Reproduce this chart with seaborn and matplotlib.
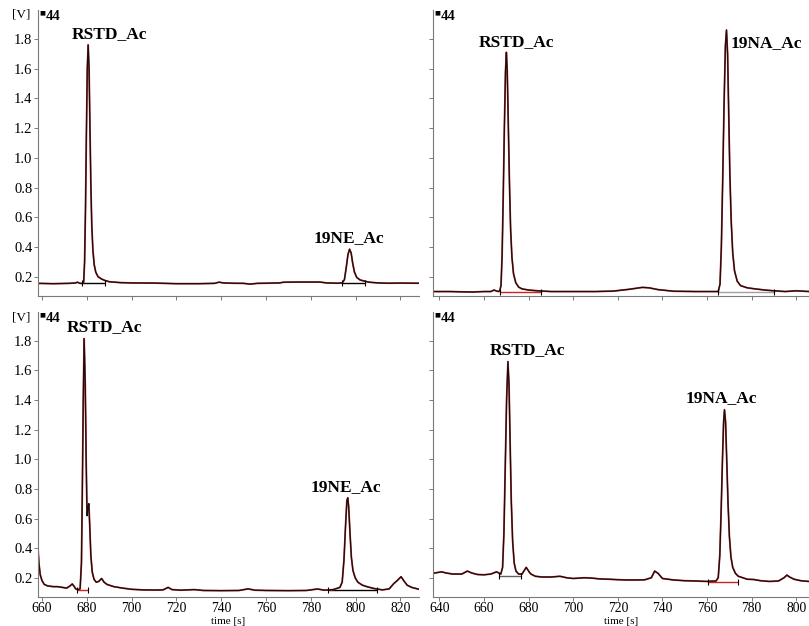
import numpy as np
import pandas as pd
import seaborn as sns
import matplotlib
matplotlib.use("Agg")
import matplotlib.pyplot as plt

# ---------------- data ----------------
# top-left chromatogram
tl_t = [658.2, 665, 672, 675, 675.8, 676.6, 677.5, 678.3, 678.6, 679.0, 679.4, 679.8, 680.2, 680.6,
        681.0, 681.4, 681.8, 682.2, 682.7, 683.3, 684, 685, 686.5, 688, 690, 695, 700, 710, 720, 730,
        737, 739, 741, 745, 750, 753, 756, 760, 766, 768, 775, 784, 787, 792, 794, 795, 795.8, 796.6,
        797.3, 798.0, 798.7, 799.5, 800.5, 802, 804, 806, 810, 815, 820, 828.3]
tl_v = [0.155, 0.153, 0.155, 0.158, 0.163, 0.157, 0.154, 0.158, 0.165, 0.3, 0.65, 1.15, 1.6, 1.76,
        1.6, 1.2, 0.82, 0.55, 0.38, 0.28, 0.23, 0.2, 0.185, 0.175, 0.166, 0.16, 0.158, 0.157, 0.153, 0.153,
        0.155, 0.163, 0.158, 0.156, 0.155, 0.150, 0.155, 0.156, 0.158, 0.163, 0.164, 0.164, 0.158, 0.156, 0.158, 0.18, 0.26, 0.35,
        0.385, 0.36, 0.29, 0.23, 0.195, 0.178, 0.17, 0.163, 0.158, 0.156, 0.157, 0.156]

# top-right chromatogram
tr_t = [637.1, 645, 650, 655, 660, 663, 664.5, 665.5, 666.5, 667.0, 667.6, 668.1, 668.6, 669.1, 669.6,
        670.0, 670.4, 670.9, 671.4, 671.9, 672.5, 673.2, 674.2, 675.5, 677, 680, 684, 690, 700, 710,
        718, 725, 731, 734, 738, 745, 755, 763, 765.0, 765.8, 766.4, 767.0, 767.6, 768.2, 768.7, 769.2,
        769.7, 770.2, 770.8, 771.5, 772.3, 773.5, 775, 778, 782, 786, 790, 795, 800, 805.7]
tr_v = [0.1, 0.1, 0.098, 0.097, 0.1, 0.1, 0.11, 0.104, 0.1, 0.105, 0.14, 0.35, 0.75, 1.2, 1.58,
        1.71, 1.58, 1.2, 0.82, 0.52, 0.33, 0.22, 0.16, 0.13, 0.118, 0.11, 0.105, 0.1, 0.1, 0.1,
        0.103, 0.115, 0.128, 0.125, 0.113, 0.102, 0.1, 0.1, 0.1, 0.15, 0.4, 0.85, 1.35, 1.75, 1.86, 1.7,
        1.3, 0.9, 0.58, 0.36, 0.24, 0.17, 0.14, 0.125, 0.117, 0.11, 0.105, 0.1, 0.105, 0.1]

# bottom-left chromatogram
bl_t = [658.2, 658.6, 659.2, 660, 661, 662.5, 665, 667, 669, 671, 672.5, 673.5, 674.4, 675, 676, 677,
        677.6, 678.0, 678.4, 678.8, 679.3, 679.7, 680.1, 680.5, 680.9, 681.3, 681.8, 682.4, 683.2,
        684.2, 685.3, 686.6, 687.7, 689, 692, 696, 700, 705, 710, 714, 716.3, 718, 722, 728, 732, 740,
        748, 752, 755, 760, 770, 778, 783, 786, 790, 793.0, 794.0, 794.8, 795.5, 796.1, 796.5, 796.9,
        797.5, 798.1, 798.8, 799.8, 801, 803, 805, 808, 812, 815, 817, 818.5, 820.3, 821.5, 823, 825, 828.3]
bl_v = [0.4, 0.3, 0.22, 0.18, 0.155, 0.145, 0.14, 0.14, 0.135, 0.13, 0.145, 0.158, 0.14, 0.125, 0.12, 0.125,
        0.3, 0.8, 1.4, 1.815, 1.5, 1.0, 0.62, 0.68, 0.70, 0.55, 0.35, 0.24, 0.19,
        0.17, 0.175, 0.195, 0.17, 0.155, 0.14, 0.13, 0.122, 0.118, 0.117, 0.118, 0.135, 0.12, 0.116, 0.12, 0.114, 0.113,
        0.114, 0.125, 0.116, 0.114, 0.113, 0.114, 0.124, 0.116, 0.12, 0.135, 0.17, 0.32, 0.55, 0.72, 0.74, 0.68,
        0.5, 0.34, 0.25, 0.2, 0.17, 0.15, 0.14, 0.128, 0.118, 0.125, 0.16, 0.18, 0.207, 0.18, 0.15, 0.135, 0.122]

# bottom-right chromatogram
br_t = [637.1, 639, 641, 643, 646, 650, 652.5, 654.5, 657, 660, 663, 665.6, 666.6, 667.5, 668.3, 668.9,
        669.5, 670.1, 670.7, 671.2, 671.7, 672.2, 672.8, 673.5, 674.3, 675.5, 677, 678.9, 680.2, 681,
        683, 686, 690, 694, 697, 700, 705, 708, 712, 716, 720, 724, 728, 732, 735, 736.5, 738, 740, 745,
        750, 755, 760, 763, 764.0, 765.0, 765.7, 766.3, 766.9, 767.4, 767.8, 768.3, 768.8, 769.4, 770.0,
        770.7, 771.5, 772.7, 774, 776, 778, 781, 784, 788, 792, 794.5, 795.8, 797, 799, 802, 805.7]
br_v = [0.23, 0.235, 0.24, 0.232, 0.225, 0.225, 0.245, 0.232, 0.222, 0.22, 0.225, 0.24, 0.232, 0.225, 0.27, 0.5,
        0.95, 1.4, 1.66, 1.5, 1.1, 0.72, 0.45, 0.3, 0.245, 0.225, 0.225, 0.27, 0.24, 0.225,
        0.21, 0.205, 0.205, 0.21, 0.2, 0.195, 0.2, 0.198, 0.192, 0.19, 0.187, 0.185, 0.185, 0.186, 0.2, 0.245, 0.23, 0.195, 0.185,
        0.18, 0.178, 0.175, 0.178, 0.178, 0.2, 0.35, 0.65, 1.0, 1.25, 1.335, 1.25, 1.0, 0.7, 0.48,
        0.34, 0.27, 0.23, 0.21, 0.2, 0.19, 0.188, 0.18, 0.175, 0.178, 0.2, 0.218, 0.205, 0.19, 0.18, 0.175]

# integration baselines: (start, end, level, colour)
tl_base = [(677.9, 688.0, 0.155, "black"), (794.0, 804.2, 0.157, "black")]
tr_base = [(667.3, 685.4, 0.097, "#d62020"), (765.0, 790.0, 0.095, "#a0a0a0")]
bl_base = [(675.6, 680.5, 0.12, "#d62020"), (787.7, 809.5, 0.115, "black")]
br_base = [(666.6, 676.6, 0.213, "#606060"), (760.5, 774.0, 0.174, "#d62020")]

# peak labels: (text, time, level)
tl_labels = [("RSTD_Ac", 690.0, 1.83), ("19NE_Ac", 797.0, 0.46)]
tr_labels = [("RSTD_Ac", 674.3, 1.78), ("19NA_Ac", 786.7, 1.775)]
bl_labels = [("RSTD_Ac", 688.0, 1.89), ("19NE_Ac", 795.7, 0.81)]
br_labels = [("RSTD_Ac", 679.6, 1.735), ("19NA_Ac", 766.5, 1.415)]

yticks = [0.2, 0.4, 0.6, 0.8, 1.0, 1.2, 1.4, 1.6, 1.8]
left_xticks = [660, 680, 700, 720, 740, 760, 780, 800, 820]
right_xticks = [640, 660, 680, 700, 720, 740, 760, 780, 800]
left_xlim = (658.2, 828.3)
right_xlim = (637.1, 805.7)
ylim = (0.07, 1.995)
xlabel = "time [s]"
ylabel = "[V]"
channel = "44"

# ---------------- drawing ----------------
sns.set_style("ticks")
plt.rcParams["font.family"] = ["Liberation Serif", "DejaVu Serif"]
plt.rcParams["text.color"] = "black"
plt.rcParams["axes.labelcolor"] = "black"
plt.rcParams["xtick.labelcolor"] = "black"
plt.rcParams["ytick.labelcolor"] = "black"

W, H = 809, 626
fig = plt.figure(figsize=(W / 100, H / 100), dpi=100)

def rect(l, t, r, b):
    return [l / W, 1 - b / H, (r - l) / W, (b - t) / H]

axes = {
    "tl": fig.add_axes(rect(38, 10, 419, 296)),
    "tr": fig.add_axes(rect(433, 10, 809, 296)),
    "bl": fig.add_axes(rect(38, 312, 419, 597)),
    "br": fig.add_axes(rect(433, 312, 809, 597)),
}
traces = {"tl": (tl_t, tl_v), "tr": (tr_t, tr_v), "bl": (bl_t, bl_v), "br": (br_t, br_v)}
bases = {"tl": tl_base, "tr": tr_base, "bl": bl_base, "br": br_base}
labels = {"tl": tl_labels, "tr": tr_labels, "bl": bl_labels, "br": br_labels}

spine_col = "#7a7a7a"
for key, ax in axes.items():
    t, v = traces[key]
    df = pd.DataFrame({"t": t, "v": v})
    sns.lineplot(data=df, x="t", y="v", ax=ax, color="#d03030", lw=1.3, estimator=None, sort=False)
    sns.lineplot(data=df, x="t", y="v", ax=ax, color="#111111", lw=0.9, estimator=None, sort=False)
    for (a, b, lev, col) in bases[key]:
        ax.plot([a, b], [lev, lev], color=col, lw=1.0, zorder=1)
        ax.plot([a, b], [lev, lev], ls="none", marker="|", ms=4, mew=0.8, color="black")
    for (txt, x, y) in labels[key]:
        ax.text(x, y, txt, ha="center", va="center", fontsize=12.5, fontweight="bold", color="black")

    left = key in ("tl", "bl")
    ax.set_xlim(*(left_xlim if left else right_xlim))
    ax.set_ylim(*ylim)
    ax.set_xticks(left_xticks if left else right_xticks)
    ax.set_yticks(yticks)
    ax.set_xlabel("")
    ax.set_ylabel("")
    if left:
        ax.set_yticklabels([f"{y:.1f}" for y in yticks])
    else:
        ax.set_yticklabels([])
    if key in ("bl", "br"):
        ax.set_xticklabels([str(x) for x in (left_xticks if left else right_xticks)])
    else:
        ax.set_xticklabels([])
    ax.tick_params(axis="y", direction="out", length=3, width=0.7, color=spine_col,
                   labelsize=10.5, pad=1.0)
    ax.tick_params(axis="x", direction="out", length=3, width=0.7, color=spine_col,
                   labelsize=9.8, pad=0.5)
    for s in ("top", "right"):
        ax.spines[s].set_visible(False)
    for s in ("left", "bottom"):
        ax.spines[s].set_color(spine_col)
        ax.spines[s].set_linewidth(0.8)
    ax.set_facecolor("white")
    # channel tag
    ax.annotate("\u25a0", xy=(0, 1), xycoords="axes fraction", xytext=(4, -3),
                textcoords="offset pixels", ha="center", va="center", fontsize=4.5,
                family="DejaVu Sans", annotation_clip=False)
    ax.annotate(channel, xy=(0, 1), xycoords="axes fraction", xytext=(8, -7),
                textcoords="offset pixels", ha="left", va="center", fontsize=10.5,
                fontweight="bold", annotation_clip=False)
    if left:
        ax.annotate(ylabel, xy=(0, 1), xycoords="axes fraction", xytext=(-17, -5),
                    textcoords="offset pixels", ha="center", va="center", fontsize=9.5,
                    annotation_clip=False)
    if key in ("bl", "br"):
        ax.annotate(xlabel, xy=(0.5, 0), xycoords="axes fraction", xytext=(0, -25),
                    textcoords="offset pixels", ha="center", va="center", fontsize=8,
                    annotation_clip=False)

fig.savefig("out.png", dpi=100, facecolor="white")
